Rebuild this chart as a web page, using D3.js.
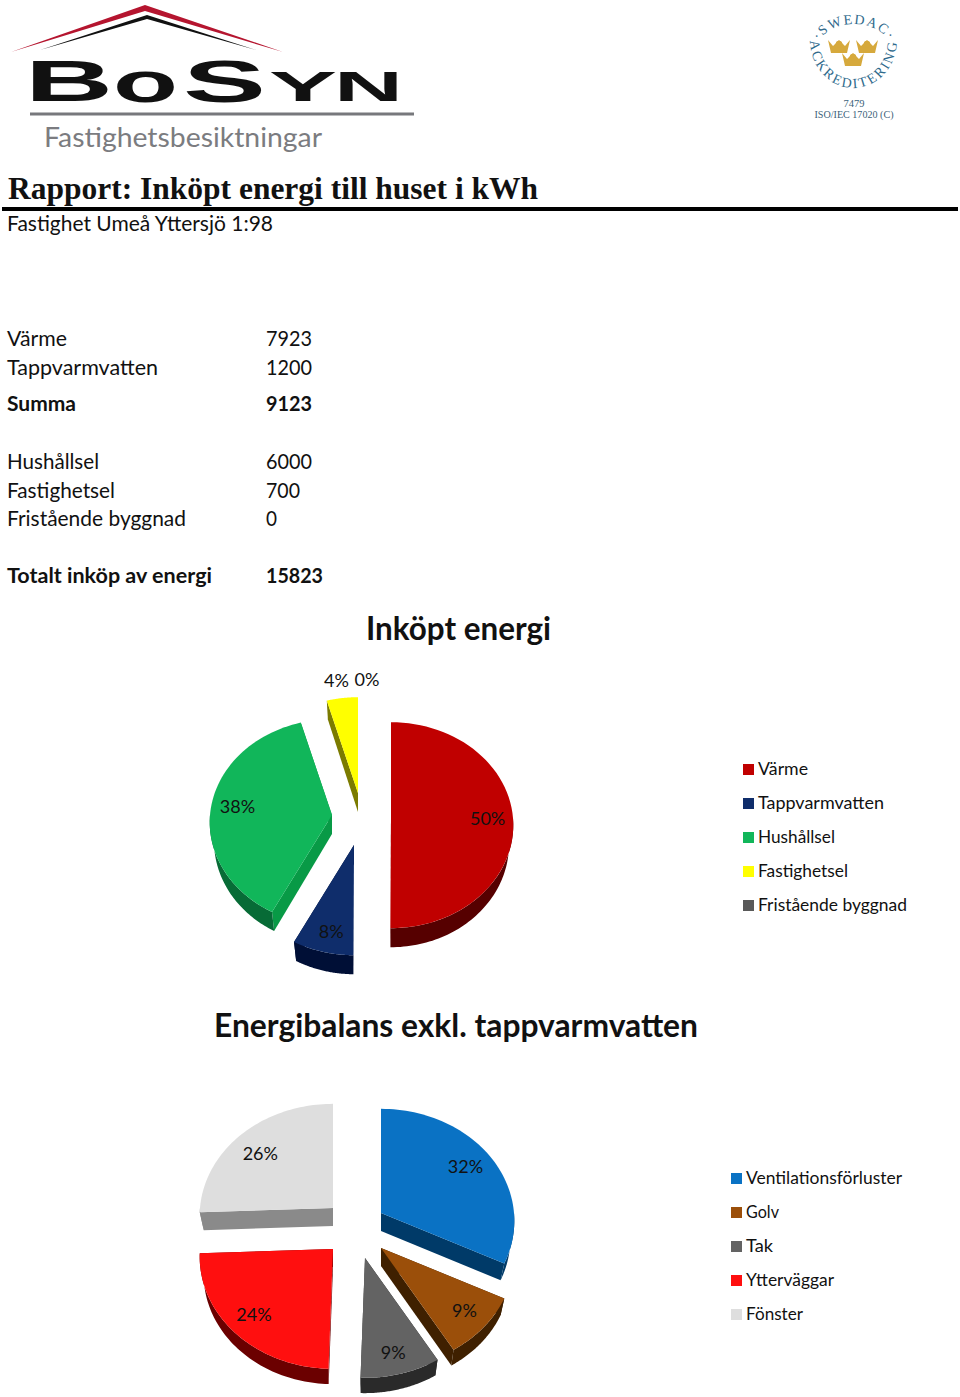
<!DOCTYPE html>
<html><head><meta charset="utf-8">
<script src="https://cdn.jsdelivr.net/npm/d3@7/dist/d3.min.js"></script>
<style>html,body{margin:0;padding:0;background:#fff}svg{display:block}text{font-family:Lato,"Noto Sans",sans-serif;fill:#111}</style>
</head><body><svg id="c" width="960" height="1397" viewBox="0 0 960 1397"></svg>
<script>
// ---------- data ----------
const energyCategories = ["Värme","Tappvarmvatten","Hushållsel","Fastighetsel","Fristående byggnad"];
const energyValues = [7923,1200,6000,700,0];
const balanceCategories = ["Ventilationsförluster","Golv","Tak","Ytterväggar","Fönster"];
const balanceValues = [32.2,9.2,9.1,23.9,25.6];
const tableLabels = ["Värme","Tappvarmvatten","Summa","Hushållsel","Fastighetsel","Fristående byggnad","Totalt inköp av energi"];
const tableValues = ["7923","1200","9123","6000","700","0","15823"];
const tableBold = [false,false,true,false,false,false,true];
// ---------- styles / layout ----------
const energyFaces = ["#c00000","#0f2d6b","#11b65a","#ffff00","#595959"];
const energyWalls = ["#560000","#000f36","#076b36","#7b7b00","#333333"];
const energySides = ["#560000","#000f36","#089a46","#7b7b00","#333333"];
const balanceFaces = ["#0a72c4","#9b4f0a","#636363","#ff0f0f","#dedede"];
const balanceWalls = ["#003a68","#3f2000","#2a2a2a","#6b0000","#8a8a8a"];
const balanceSides = ["#003a68","#3f2000","#2a2a2a","#6b0000","#8a8a8a"];
const energyCenters = [[391,818],[354,845],[332,815],[358,793],[367,793]];
const balanceCenters = [[381,1213],[381,1248],[365,1258],[333,1249],[333,1208]];
const energyNudge = [[-1,1],[2,3],[2,0],[-3,0],[0,0]];
const balanceNudge = [[-3,0],[2,0],[0,4],[-1,0],[1,6]];
const energyLegendW = [50,126,77,90,149];
const balanceLegendW = [156,33,27,88,57];
const tableY = [346,375,411,469,498,526,583];
const tableLabelW = [60,151,69,92,108,179,205];
const tableValueW = [46,46,46,46,34,11,57];

const svg = d3.select("#c");

function txt(s,x,y,size,opts={}){
  const t = svg.append("text").attr("x",x).attr("y",y).attr("font-size",size).text(s);
  if(opts.weight) t.attr("font-weight",opts.weight);
  if(opts.family) t.style("font-family",opts.family);
  if(opts.fill) t.style("fill",opts.fill);
  if(opts.anchor) t.attr("text-anchor",opts.anchor);
  if(opts.len) t.attr("textLength",opts.len).attr("lengthAdjust","spacingAndGlyphs");
  return t;
}

function drawPie(cfg){
  const arcs = d3.pie().sort(null).startAngle(0).endAngle(2*Math.PI)(cfg.values);
  const total = d3.sum(cfg.values);
  const pct = d3.format(".0%");
  const line = d3.line();
  const {rx,ry,p,depth,shrink,depthFall} = cfg;
  const pt = (a,c,f=1) => {
    const u=Math.sin(a), v=-Math.cos(a), k=1+p*v*f;
    return [c[0]+f*rx*u*k, c[1]+f*ry*v*k];
  };
  const low = (a,c,f=1) => {
    const u=Math.sin(a), v=-Math.cos(a), k=1+p*v*f;
    return [c[0]+f*shrink*rx*u*k, c[1]+f*ry*v*k+depth*(1-depthFall*v*f)];
  };
  const samples = (a0,a1) => d3.range(0,61).map(d3.scaleLinear().domain([0,60]).range([a0,a1]));
  const g = svg.append("g");
  arcs.forEach((d,i)=>{
    if(d.endAngle-d.startAngle<=0) return;
    const c=cfg.centers[i];
    [d.startAngle,d.endAngle].forEach(a=>{
      g.append("path").attr("d",line([c,pt(a,c),low(a,c),low(a,c,0)])+"Z").attr("fill",cfg.sides[i]);
    });
    const a0=Math.max(d.startAngle,Math.PI/2), a1=Math.min(d.endAngle,Math.PI*1.5);
    if(a1>a0){
      const s=samples(a0,a1);
      g.append("path").attr("d",line(s.map(a=>pt(a,c)).concat(s.slice().reverse().map(a=>low(a,c))))+"Z").attr("fill",cfg.walls[i]);
    }
  });
  arcs.forEach((d,i)=>{
    if(d.endAngle-d.startAngle<=0) return;
    const c=cfg.centers[i];
    g.append("path").attr("d",line([c].concat(samples(d.startAngle,d.endAngle).map(a=>pt(a,c))))+"Z").attr("fill",cfg.faces[i]);
  });
  arcs.forEach((d,i)=>{
    const c=cfg.centers[i];
    const share=d.data/total;
    const f = share<0.05 ? cfg.outside : 0.8;
    const q=pt((d.startAngle+d.endAngle)/2,c,f);
    txt(pct(share),q[0]+cfg.nudge[i][0],q[1]+6+cfg.nudge[i][1],cfg.labelSize,{anchor:"middle"});
  });
  const ly=d3.scalePoint().domain(cfg.categories).range(cfg.legendY);
  cfg.categories.forEach((n,i)=>{
    svg.append("rect").attr("x",cfg.legendX).attr("y",ly(n)-5).attr("width",11).attr("height",11).attr("fill",cfg.faces[i]);
    txt(n,cfg.legendX+15,ly(n)+6,18,{len:cfg.legendW[i]});
  });
}

// ---------- logo ----------
svg.append("path").attr("d","M11 52L145 5L283 52L145 11Z").attr("fill","#b5152f");
svg.append("path").attr("d","M40 50L147 15L256 50L147 19Z").attr("fill","#111");
const logoLetters = [["B",25,88,101,57],["o",113,65,102,57],["S",183,83,102,59],["Y",269,68,101,43],["N",334,69,101,43]];
logoLetters.forEach(l=>txt(l[0],l[1],l[3],l[4],{weight:700,family:"'Liberation Sans'",len:l[2],fill:"#111"}));
svg.append("rect").attr("x",30).attr("y",112.5).attr("width",384).attr("height",3).attr("fill","#77787c");
txt("Fastighetsbesiktningar",44,147,27,{fill:"#7b7c80",len:278});

// ---------- Swedac seal ----------
const defs=svg.append("defs");
defs.append("path").attr("id","arcTop").attr("d","M818 43A38 28 0 0 1 890 43");
defs.append("path").attr("id","arcBot").attr("d","M810 40A43.5 48 0 0 0 897 40");
const seal="'Liberation Serif'";
svg.append("text").style("font-family",seal).style("fill","#2f6a8c").attr("font-size",14).attr("letter-spacing",1.5)
  .append("textPath").attr("href","#arcTop").attr("startOffset","50%").attr("text-anchor","middle").text("·SWEDAC·");
svg.append("text").style("font-family",seal).style("fill","#2f6a8c").attr("font-size",14).attr("letter-spacing",2.2)
  .append("textPath").attr("href","#arcBot").attr("startOffset","50%").attr("text-anchor","middle").text("ACKREDITERING");
[[839,47],[867,47],[853,60]].forEach(c=>{
  const g=svg.append("g").attr("transform",`translate(${c[0]},${c[1]})`);
  g.append("path").attr("d","M-11 -7L-6 -1L-3 -4L0 -7L3 -4L6 -1L11 -7L8 6L-8 6Z").attr("fill","#d6a93c");
  g.append("circle").attr("cy",-3).attr("r",3.2).attr("fill","#d6a93c");
});
txt("7479",854,107,10.5,{family:seal,anchor:"middle",fill:"#3b5f7a"});
txt("ISO/IEC 17020 (C)",854,118,10.5,{family:seal,anchor:"middle",fill:"#3b5f7a",len:79});

// ---------- heading ----------
txt("Rapport: Inköpt energi till huset i kWh",8,199,31,{weight:700,family:"'Liberation Serif'",len:530,fill:"#111"});
svg.append("rect").attr("x",2).attr("y",207).attr("width",956).attr("height",4).attr("fill","#000");
txt("Fastighet Umeå Yttersjö 1:98",7,231,22,{len:266});

// ---------- table ----------
tableLabels.forEach((n,i)=>{
  const w=tableBold[i]?{weight:700}:{};
  txt(n,7,tableY[i],21.5,{...w,len:tableLabelW[i]});
  txt(tableValues[i],266,tableY[i],21.5,{...w,len:tableValueW[i]});
});

// ---------- charts ----------
txt("Inköpt energi",366,640,33,{weight:700,len:185});
drawPie({values:energyValues,categories:energyCategories,faces:energyFaces,walls:energyWalls,sides:energySides,
  centers:energyCenters,nudge:energyNudge,legendW:energyLegendW,rx:122,ry:103,p:0.07,depth:19,depthFall:0,shrink:0.965,labelSize:18,outside:1.2,legendX:743,legendY:[769,905]});
txt("Energibalans exkl. tappvarmvatten",214,1037,33,{weight:700,len:484});
drawPie({values:balanceValues,categories:balanceCategories,faces:balanceFaces,walls:balanceWalls,sides:balanceSides,
  centers:balanceCenters,nudge:balanceNudge,legendW:balanceLegendW,rx:133,ry:112,p:0.07,depth:18,depthFall:0.15,shrink:0.97,labelSize:18,outside:1.2,legendX:731,legendY:[1178,1314]});
</script></body></html>
